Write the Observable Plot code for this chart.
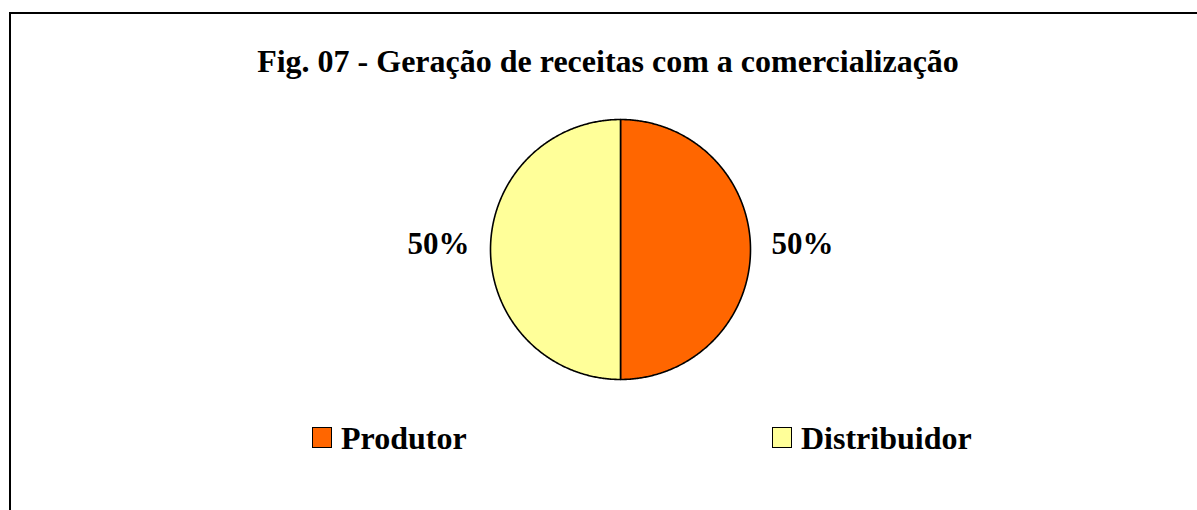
<!DOCTYPE html>
<html>
<head>
<meta charset="utf-8">
<script src="https://cdn.jsdelivr.net/npm/d3@7"></script>
<script src="https://cdn.jsdelivr.net/npm/@observablehq/plot@0.6"></script>
<style>
  html, body { margin: 0; padding: 0; background: #fff; }
  #wrap { position: relative; width: 1197px; height: 510px; overflow: hidden; font-family: "Liberation Serif", "Times New Roman", serif; font-weight: bold; color: #000; }
  #frame { position: absolute; left: 9px; top: 12px; width: 1400px; height: 700px; border-left: 2px solid #000; border-top: 2px solid #000; }
  #title { position: absolute; left: 0; width: 1216px; top: 45px; text-align: center; font-size: 32px; line-height: 32px; white-space: nowrap; }
  #chart { position: absolute; left: 0; top: 0; }
  .leg { position: absolute; top: 422px; font-size: 32px; line-height: 32px; white-space: nowrap; display: flex; align-items: flex-start; }
  .sw { width: 18px; height: 19px; border: 1.5px solid #000; margin-top: 5px; margin-right: 9px; }
</style>
</head>
<body>
<div id="wrap">
  <div id="frame"></div>
  <div id="title"></div>
  <div id="chart"></div>
  <div id="legend"></div>
</div>
<script>
const titleText = "Fig. 07 - Geração de receitas com a comercialização";
const categories = ["Produtor", "Distribuidor"];
const values = [50, 50];
const colors = ["#FF6600", "#FFFF99"];
const legendLeft = [312, 772];

document.getElementById("title").textContent = titleText;

const table = categories.map((c, i) => ({name: c, value: values[i], color: colors[i]}));
const total = d3.sum(values);
const arcs = d3.pie().value(d => d.value).sort(null)(table);

// slice outlines (unit circle, angle measured clockwise from 12 o'clock)
const pts = [];
for (const a of arcs) {
  pts.push({name: a.data.name, color: a.data.color, x: 0, y: 0});
  const n = Math.max(2, Math.ceil((a.endAngle - a.startAngle) / (Math.PI / 360)));
  for (let k = 0; k <= n; k++) {
    const t = a.startAngle + (a.endAngle - a.startAngle) * k / n;
    pts.push({name: a.data.name, color: a.data.color, x: Math.sin(t), y: -Math.cos(t)});
  }
  pts.push({name: a.data.name, color: a.data.color, x: 0, y: 0});
}

const labels = arcs.map(a => {
  const m = (a.startAngle + a.endAngle) / 2;
  return {text: Math.round(a.data.value / total * 100) + "%", x: 1.4 * Math.sin(m), y: -1.4 * Math.cos(m)};
});

const plot = Plot.plot({
  width: 1197,
  height: 510,
  margin: 0,
  x: {domain: [-1, 1], range: [490, 750], axis: null},
  y: {domain: [-1, 1], range: [119, 379], axis: null},
  style: {background: "transparent", overflow: "visible"},
  marks: [
    Plot.line(pts, {x: "x", y: "y", z: "name", fill: "color", stroke: "#000", strokeWidth: 1.6, curve: "linear"}),
    Plot.text(labels, {x: "x", y: "y", text: "text", fontSize: 31, fontWeight: "bold", fontFamily: "Liberation Serif, Times New Roman, serif", fill: "#000", dy: -5})
  ]
});
document.getElementById("chart").appendChild(plot);

const legend = document.getElementById("legend");
categories.forEach((c, i) => {
  const item = document.createElement("div");
  item.className = "leg";
  item.style.left = legendLeft[i] + "px";
  const sw = document.createElement("div");
  sw.className = "sw";
  sw.style.background = colors[i];
  const tx = document.createElement("span");
  tx.textContent = c;
  item.appendChild(sw);
  item.appendChild(tx);
  legend.appendChild(item);
});
</script>
</body>
</html>
